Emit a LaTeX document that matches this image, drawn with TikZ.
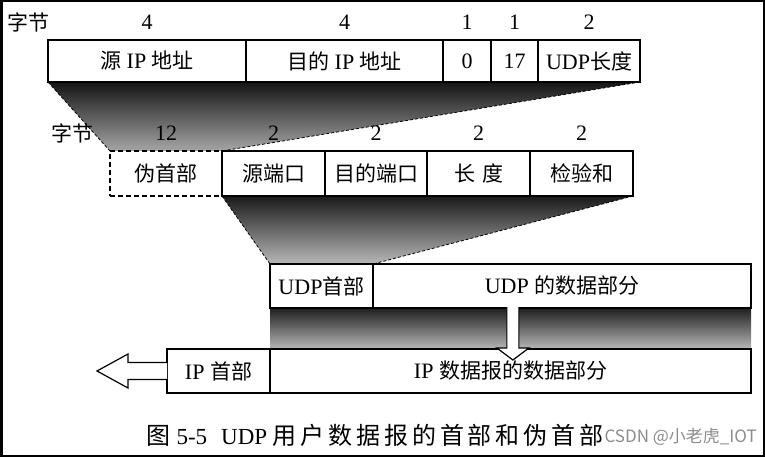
\documentclass[tikz,border=0pt]{standalone}
\usepackage{fontspec}
\setmainfont{Liberation Serif}
\newfontfamily\cjk{Noto Sans CJK SC}
\newfontfamily\cjkcap{Noto Sans CJK SC}[LetterSpace=16]
\usetikzlibrary{calc,backgrounds}
\newcommand{\zh}[1]{{\cjk\fontsize{21}{21}\selectfont #1}}
\newcommand{\capzh}[1]{{\cjkcap\fontsize{24}{24}\selectfont #1}}
\begin{document}
\begin{tikzpicture}[x=1pt,y=-1pt,
  fld/.style={draw, line width=1.2pt, fill=white, inner sep=0pt, outer sep=0pt,
    anchor=north west, font=\fontsize{22}{22}\selectfont},
  pfld/.style={fld, dash pattern=on 5pt off 3pt},
  num/.style={font=\fontsize{22}{22}\selectfont, inner sep=0pt},
  edgeline/.style={dash pattern=on 3pt off 2pt, line width=0.8pt},
  hollow/.style={draw, line width=1.2pt, fill=white, line join=miter}]
\useasboundingbox (0,0) rectangle (765,457);
\draw[line width=2.5pt] (1.25,1.25) rectangle (763.75,455.75);

% row 1: pseudo header
\node[fld, minimum width=198pt, minimum height=42pt] (ip1) at (48,40) {\zh{源} IP \zh{地址}};
\node[fld, minimum width=197pt, minimum height=42pt] (ip2) at (246,40) {\zh{目的} IP \zh{地址}};
\node[fld, minimum width=48pt, minimum height=42pt] (zero) at (443,40) {0};
\node[fld, minimum width=47pt, minimum height=42pt] (proto) at (491,40) {17};
\node[fld, minimum width=102pt, minimum height=42pt] (ulen) at (538,40) {UDP\zh{长度}};

% row 2: UDP header
\node[pfld, minimum width=112pt, minimum height=45pt] (ph) at (110,151) {\zh{伪首部}};
\node[fld, minimum width=103pt, minimum height=45pt] (sp) at (222,151) {\zh{源端口}};
\node[fld, minimum width=102pt, minimum height=45pt] (dp) at (325,151) {\zh{目的端口}};
\node[fld, minimum width=103pt, minimum height=45pt] (ln) at (427,151) {\zh{长\,\,度}};
\node[fld, minimum width=103pt, minimum height=45pt] (ck) at (530,151) {\zh{检验和}};

% row 3: UDP datagram
\node[fld, minimum width=103pt, minimum height=44pt] (uh) at (270,264) {UDP\zh{首部}};
\node[fld, minimum width=378pt, minimum height=44pt] (ud) at (373,264) {UDP \zh{的数据部分}};

% row 4: IP datagram
\node[fld, minimum width=103pt, minimum height=44pt] (ih) at (167,349) {IP \zh{首部}};
\node[fld, minimum width=481pt, minimum height=44pt] (id) at (270,349) {IP \zh{数据报的数据部分}};

% shadings behind the boxes
\begin{pgfonlayer}{background}
\shade[top color=black!92, bottom color=black!35]
  (ip1.south west) -- (ulen.south east) -- (sp.north west) -- (ph.north west) -- cycle;
\shade[top color=black!90, bottom color=black!28]
  (sp.south west) -- (ck.south east) -- (uh.north east) -- (uh.north west) -- cycle;
\shade[top color=black!88, bottom color=black!28]
  (uh.south west) -- (ud.south east) -- (id.north east) -- (id.north west) -- cycle;
\draw[edgeline] (ulen.south east) -- (sp.north west);
\draw[edgeline] (ip1.south west) -- (ph.north west);
\draw[edgeline] (sp.south west) -- (uh.north west);
\draw[edgeline] (ck.south east) -- (uh.north east);
\end{pgfonlayer}

% byte counts
\coordinate (r1) at (0,22);
\coordinate (r2) at (0,133);
\node[inner sep=0pt] (b1) at (28,22) {\zh{字节}};
\node[num] (n1) at (ip1 |- r1) {4};
\node[num] (n2) at (ip2 |- r1) {4};
\node[num] (n3) at (zero |- r1) {1};
\node[num] (n4) at (proto |- r1) {1};
\node[num] (n5) at (ulen |- r1) {2};
\node[inner sep=0pt] (b2) at (72,133) {\zh{字节}};
\node[num] (m1) at (ph |- r2) {12};
\node[num] (m2) at (sp |- r2) {2};
\node[num] (m3) at (dp |- r2) {2};
\node[num] (m4) at (ln |- r2) {2};
\node[num] (m5) at (ck |- r2) {2};

% hollow arrows
\draw[hollow] (ih.west) ++(0,-8.5) -- ++(-39,0) -- ++(0,-8.5) -- ++(-31,17)
  -- ++(31,17) -- ++(0,-8.5) -- ++(39,0);
\coordinate (da) at ($(ud.south west)!0.37!(ud.south east)$);
\draw[hollow] (da) ++(-6,-1) -- ++(0,41) -- ++(-10,0) -- ++(16,12)
  -- ++(16,-12) -- ++(-10,0) -- ++(0,-41);

% caption and watermark
\node[inner sep=0pt, font=\fontsize{23}{23}\selectfont] (cap) at (375,435)
  {\capzh{图} 5-5\hspace{14pt}UDP \capzh{用户数据报的首部和伪首部}};
\node[inner sep=0pt, anchor=east, text=black!45, font=\cjk\fontsize{17}{17}\selectfont] (wm) at (757,437)
  {CSDN @小老虎\_IOT};
\end{tikzpicture}
\end{document}
